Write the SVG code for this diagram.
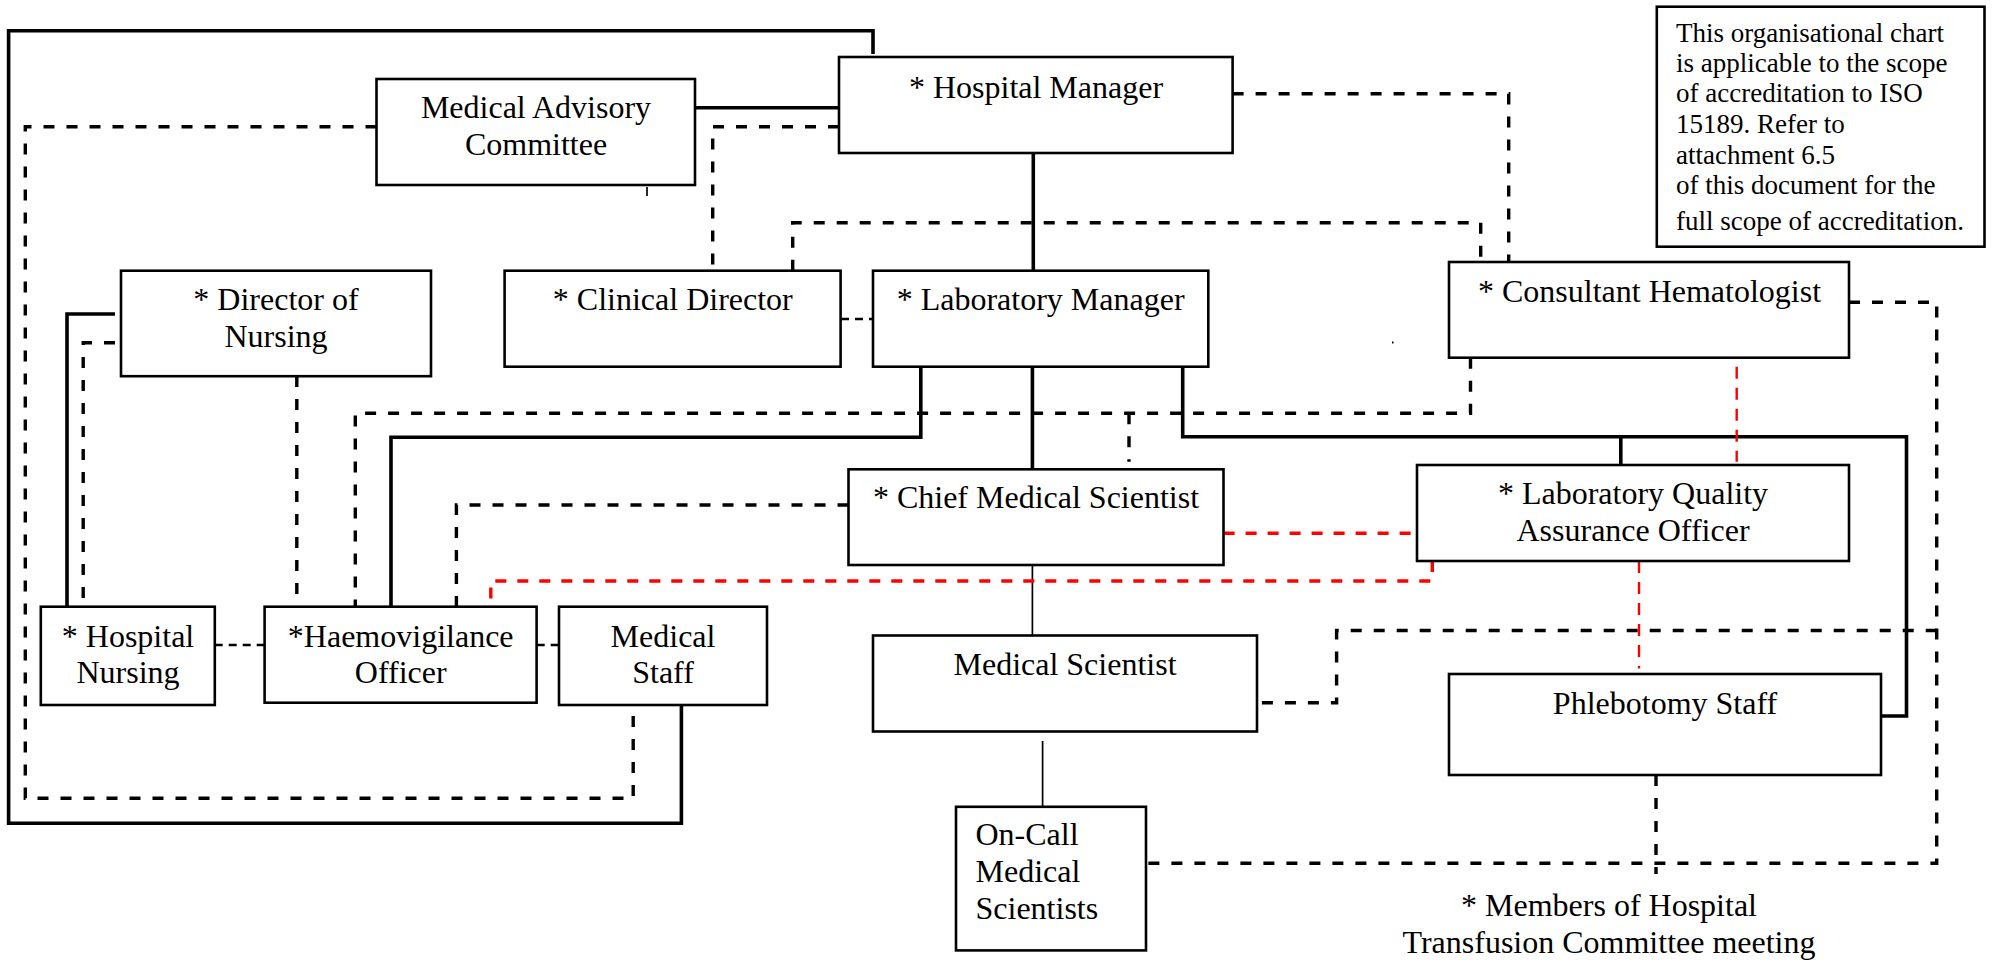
<svg xmlns="http://www.w3.org/2000/svg" width="1994" height="963" viewBox="0 0 1994 963">
<style>
.box{fill:#fff;stroke:#000;stroke-width:2.6}
.t{font-family:"Liberation Serif","Times New Roman",serif;font-size:32px;fill:#000;text-anchor:middle}
.tl{font-family:"Liberation Serif","Times New Roman",serif;font-size:32px;fill:#000}
.note{font-family:"Liberation Serif","Times New Roman",serif;font-size:27px;fill:#000}
.s{fill:none;stroke:#000;stroke-width:3.6;stroke-linejoin:miter}
.thin{fill:none;stroke:#000;stroke-width:1.7}
.d{fill:none;stroke:#000;stroke-width:3.4;stroke-dasharray:11 12}
.ds{fill:none;stroke:#000;stroke-width:2.4;stroke-dasharray:8 6}
.r{fill:none;stroke:#f00;stroke-width:3.4;stroke-dasharray:11 11}
.rv{fill:none;stroke:#f00;stroke-width:2.4;stroke-dasharray:12 9}
</style>
<rect width="1994" height="963" fill="#fff"/>
<g id="connectors">
  <path class="s" d="M873,54 V30.7 H8.6 V823.3 H681.4 V705"/>
  <path class="s" d="M695,107.7 H839"/>
  <path class="s" d="M1033.3,153 V270.7"/>
  <path class="s" d="M115,314 H67 V606.7"/>
  <path class="s" d="M920.8,366.7 V437.3 H391 V606.7"/>
  <path class="s" d="M1032.4,366.7 V469.3"/>
  <path class="s" d="M1182.7,366.7 V436.7 H1906.5 V716 H1881"/>
  <path class="s" d="M1620.8,436.7 V465"/>
  <path class="thin" d="M1032.4,565 V642"/>
  <path class="thin" d="M1042.6,741 V806.8"/>
  <path class="thin" d="M647,187 V196"/>
  <path class="d" d="M376.5,126.7 H25.3 V798.3 H633.2 V705"/>
  <path class="d" d="M839,126.7 H712.7 V270.7"/>
  <path class="d" d="M792.7,270.7 V222.7 H1480.7 V262"/>
  <path class="d" d="M1232.6,93.7 H1508.7 V262"/>
  <path class="d" d="M115,342.7 H83.2 V606.7"/>
  <path class="d" d="M296.8,376 V606.7"/>
  <path class="d" d="M1470.5,357.7 V413.3 H355.3 V606.7"/>
  <path class="d" d="M1129,413.3 V461.7"/>
  <path class="d" d="M848.5,505 H456.4 V606.7"/>
  <path class="d" d="M1849,302.3 H1936.7 V863.3 H1146"/>
  <path class="d" d="M1936.7,630.5 H1336.6 V702.7 H1245.7"/>
  <path class="d" d="M1656,775 V874"/>
  <path class="ds" d="M841,319 H873"/>
  <path class="ds" d="M214.7,645 H264.6"/>
  <path class="ds" d="M536.7,645 H559"/>
  <path class="r" d="M1223.6,533.3 H1417"/>
  <path class="r" d="M1432.3,561 V581 H490.8 V606.7"/>
  <path class="rv" d="M1736.7,366.7 V461.7"/>
  <path class="rv" d="M1639,561 V668.6"/>
  <rect x="376" y="629" width="1.5" height="2.5" fill="#000"/>
  <rect x="408.5" y="616" width="1.5" height="2.5" fill="#000"/>
  <rect x="1392" y="341.5" width="1.5" height="2" fill="#000"/>
</g>
<g id="hospital-manager"><rect class="box" x="839" y="57" width="393.6" height="96"/><text class="t" x="1036" y="98">* Hospital Manager</text></g>
<g id="medical-advisory-committee"><rect class="box" x="376.5" y="79" width="318.5" height="106"/><text class="t" x="536" y="118">Medical Advisory</text><text class="t" x="536" y="155">Committee</text></g>
<g id="note"><rect class="box" x="1656.8" y="6.7" width="327.7" height="240"/>
<text class="note" x="1676" y="41.7">This organisational chart</text>
<text class="note" x="1676" y="71.7">is applicable to the scope</text>
<text class="note" x="1676" y="101.7">of accreditation to ISO</text>
<text class="note" x="1676" y="133.3">15189. Refer to</text>
<text class="note" x="1676" y="164">attachment 6.5</text>
<text class="note" x="1676" y="194">of this document for the</text>
<text class="note" x="1676" y="230">full scope of accreditation.</text></g>
<g id="director-of-nursing"><rect class="box" x="121" y="270.7" width="310" height="105.5"/><text class="t" x="276" y="310">* Director of</text><text class="t" x="276" y="346.7">Nursing</text></g>
<g id="clinical-director"><rect class="box" x="504.6" y="270.7" width="336" height="96"/><text class="t" x="672.8" y="310">* Clinical Director</text></g>
<g id="laboratory-manager"><rect class="box" x="873" y="270.7" width="335.3" height="96"/><text class="t" x="1040.6" y="310">* Laboratory Manager</text></g>
<g id="consultant-hematologist"><rect class="box" x="1449" y="262" width="400" height="95.7"/><text class="t" x="1649.5" y="301.7">* Consultant Hematologist</text></g>
<g id="chief-medical-scientist"><rect class="box" x="848.5" y="469.3" width="375" height="95.7"/><text class="t" x="1036" y="507.7">* Chief Medical Scientist</text></g>
<g id="lab-quality-assurance-officer"><rect class="box" x="1417" y="465" width="432" height="96"/><text class="t" x="1633" y="504">* Laboratory Quality</text><text class="t" x="1633" y="541">Assurance Officer</text></g>
<g id="hospital-nursing"><rect class="box" x="40.8" y="606.7" width="174" height="98.3"/><text class="t" x="128" y="646.7">* Hospital</text><text class="t" x="128" y="683.3">Nursing</text></g>
<g id="haemovigilance-officer"><rect class="box" x="264.6" y="606.7" width="272" height="96"/><text class="t" x="400.7" y="646.7">*Haemovigilance</text><text class="t" x="400.7" y="683.3">Officer</text></g>
<g id="medical-staff"><rect class="box" x="559" y="606.7" width="208" height="98.3"/><text class="t" x="663" y="646.7">Medical</text><text class="t" x="663" y="683.3">Staff</text></g>
<g id="medical-scientist"><rect class="box" x="873" y="635.5" width="384" height="96"/><text class="t" x="1065" y="674.7">Medical Scientist</text></g>
<g id="phlebotomy-staff"><rect class="box" x="1449" y="674" width="432" height="101"/><text class="t" x="1665" y="713.5">Phlebotomy Staff</text></g>
<g id="on-call-medical-scientists"><rect class="box" x="956" y="806.8" width="190" height="143.6"/><text class="tl" x="975.5" y="845.2">On-Call</text><text class="tl" x="975.5" y="882.2">Medical</text><text class="tl" x="975.5" y="919">Scientists</text></g>
<g id="footer"><text class="t" x="1609" y="916">* Members of Hospital</text><text class="t" x="1609" y="953">Transfusion Committee meeting</text></g>
</svg>
